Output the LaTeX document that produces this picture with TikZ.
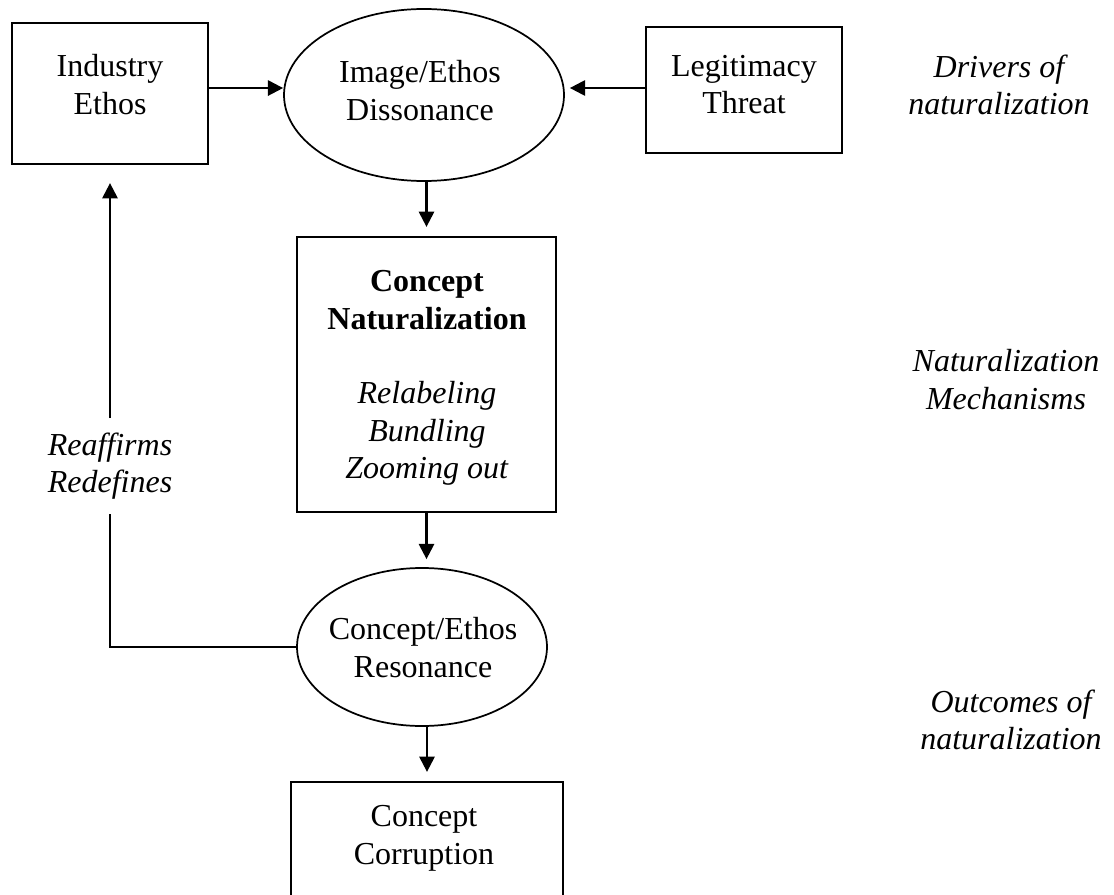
\documentclass[tikz,border=0pt]{standalone}
\usepackage{fontspec}
\setmainfont{Liberation Serif}
\usetikzlibrary{arrows.meta,shapes.geometric}
\begin{document}
\begin{tikzpicture}[x=0.75pt,y=-0.75pt,
  every node/.style={font=\fontsize{24}{28}\selectfont, align=center, inner sep=0pt},
  box/.style={draw, line width=1.7pt, rectangle},
  oval/.style={draw, line width=1.3pt, ellipse},
  link/.style={line width=1.7pt, -{Triangle[length=11.5pt,width=11.5pt]}},
  plain/.style={line width=1.7pt},
  side/.style={font=\fontsize{24}{28}\selectfont\itshape}
]
\useasboundingbox (0,0) rectangle (1114,895);
\clip (0,0) rectangle (1114,895);

% top row: drivers
\node[box, minimum width=147pt, minimum height=105.75pt] (ind) at (110,93.5) {};
\node (indt) at (110,84.7) {Industry\\Ethos};
\node[oval, minimum width=210pt, minimum height=129pt] (dis) at (424,95) {};
\node (dist) at (420,90.6) {Image/Ethos\\Dissonance};
\node[box, minimum width=147pt, minimum height=94.5pt] (leg) at (744,90) {};
\node (legt) at (744,84.6) {Legitimacy\\Threat};

% mechanisms
\node[box, minimum width=194.25pt, minimum height=206.25pt] (con) at (426.5,374.5) {};
\node (cont) at (427,378) {\textbf{Concept}\\\textbf{Naturalization}\\[28pt]\textit{Relabeling}\\\textit{Bundling}\\\textit{Zooming out}};

% outcomes
\node[oval, minimum width=187.5pt, minimum height=118.5pt] (res) at (422,647) {};
\node (rest) at (423,647.6) {Concept/Ethos\\Resonance};
\node[box, minimum width=204pt, minimum height=120pt] (cor) at (427,862) {};
\node (cort) at (424,838.3) {Concept\\Corruption};

% feedback label
\node[side, minimum height=71.25pt] (fb) at (110,466) {Reaffirms\\Redefines};

% row captions
\node[side] (drv) at (999,84.7) {Drivers of\\naturalization};
\node[side] (mech) at (1006,379.7) {Naturalization\\Mechanisms};
\node[side] (outc) at (1011,719.7) {Outcomes of\\naturalization};

% connectors
\coordinate (p1) at ([yshift=4.1pt]ind.east);
\draw[link] (p1) -- (p1 -| dis.west);
\coordinate (p2) at ([yshift=1.5pt]leg.west);
\draw[link, shorten >=3.75pt] (p2) -- (p2 -| dis.east);
\draw[link, shorten >=6.75pt] (con.north |- dis.south) -- (con.north);
\draw[link, shorten >=6pt] (con.south) -- (con.south |- res.north);
\draw[link, shorten >=6.75pt] (res.south -| cor.north) -- (cor.north);
\draw[plain] (res.west) -| (fb.south);
\draw[link, shorten >=13.5pt] (fb.north) -- (ind.south);
\end{tikzpicture}
\end{document}
